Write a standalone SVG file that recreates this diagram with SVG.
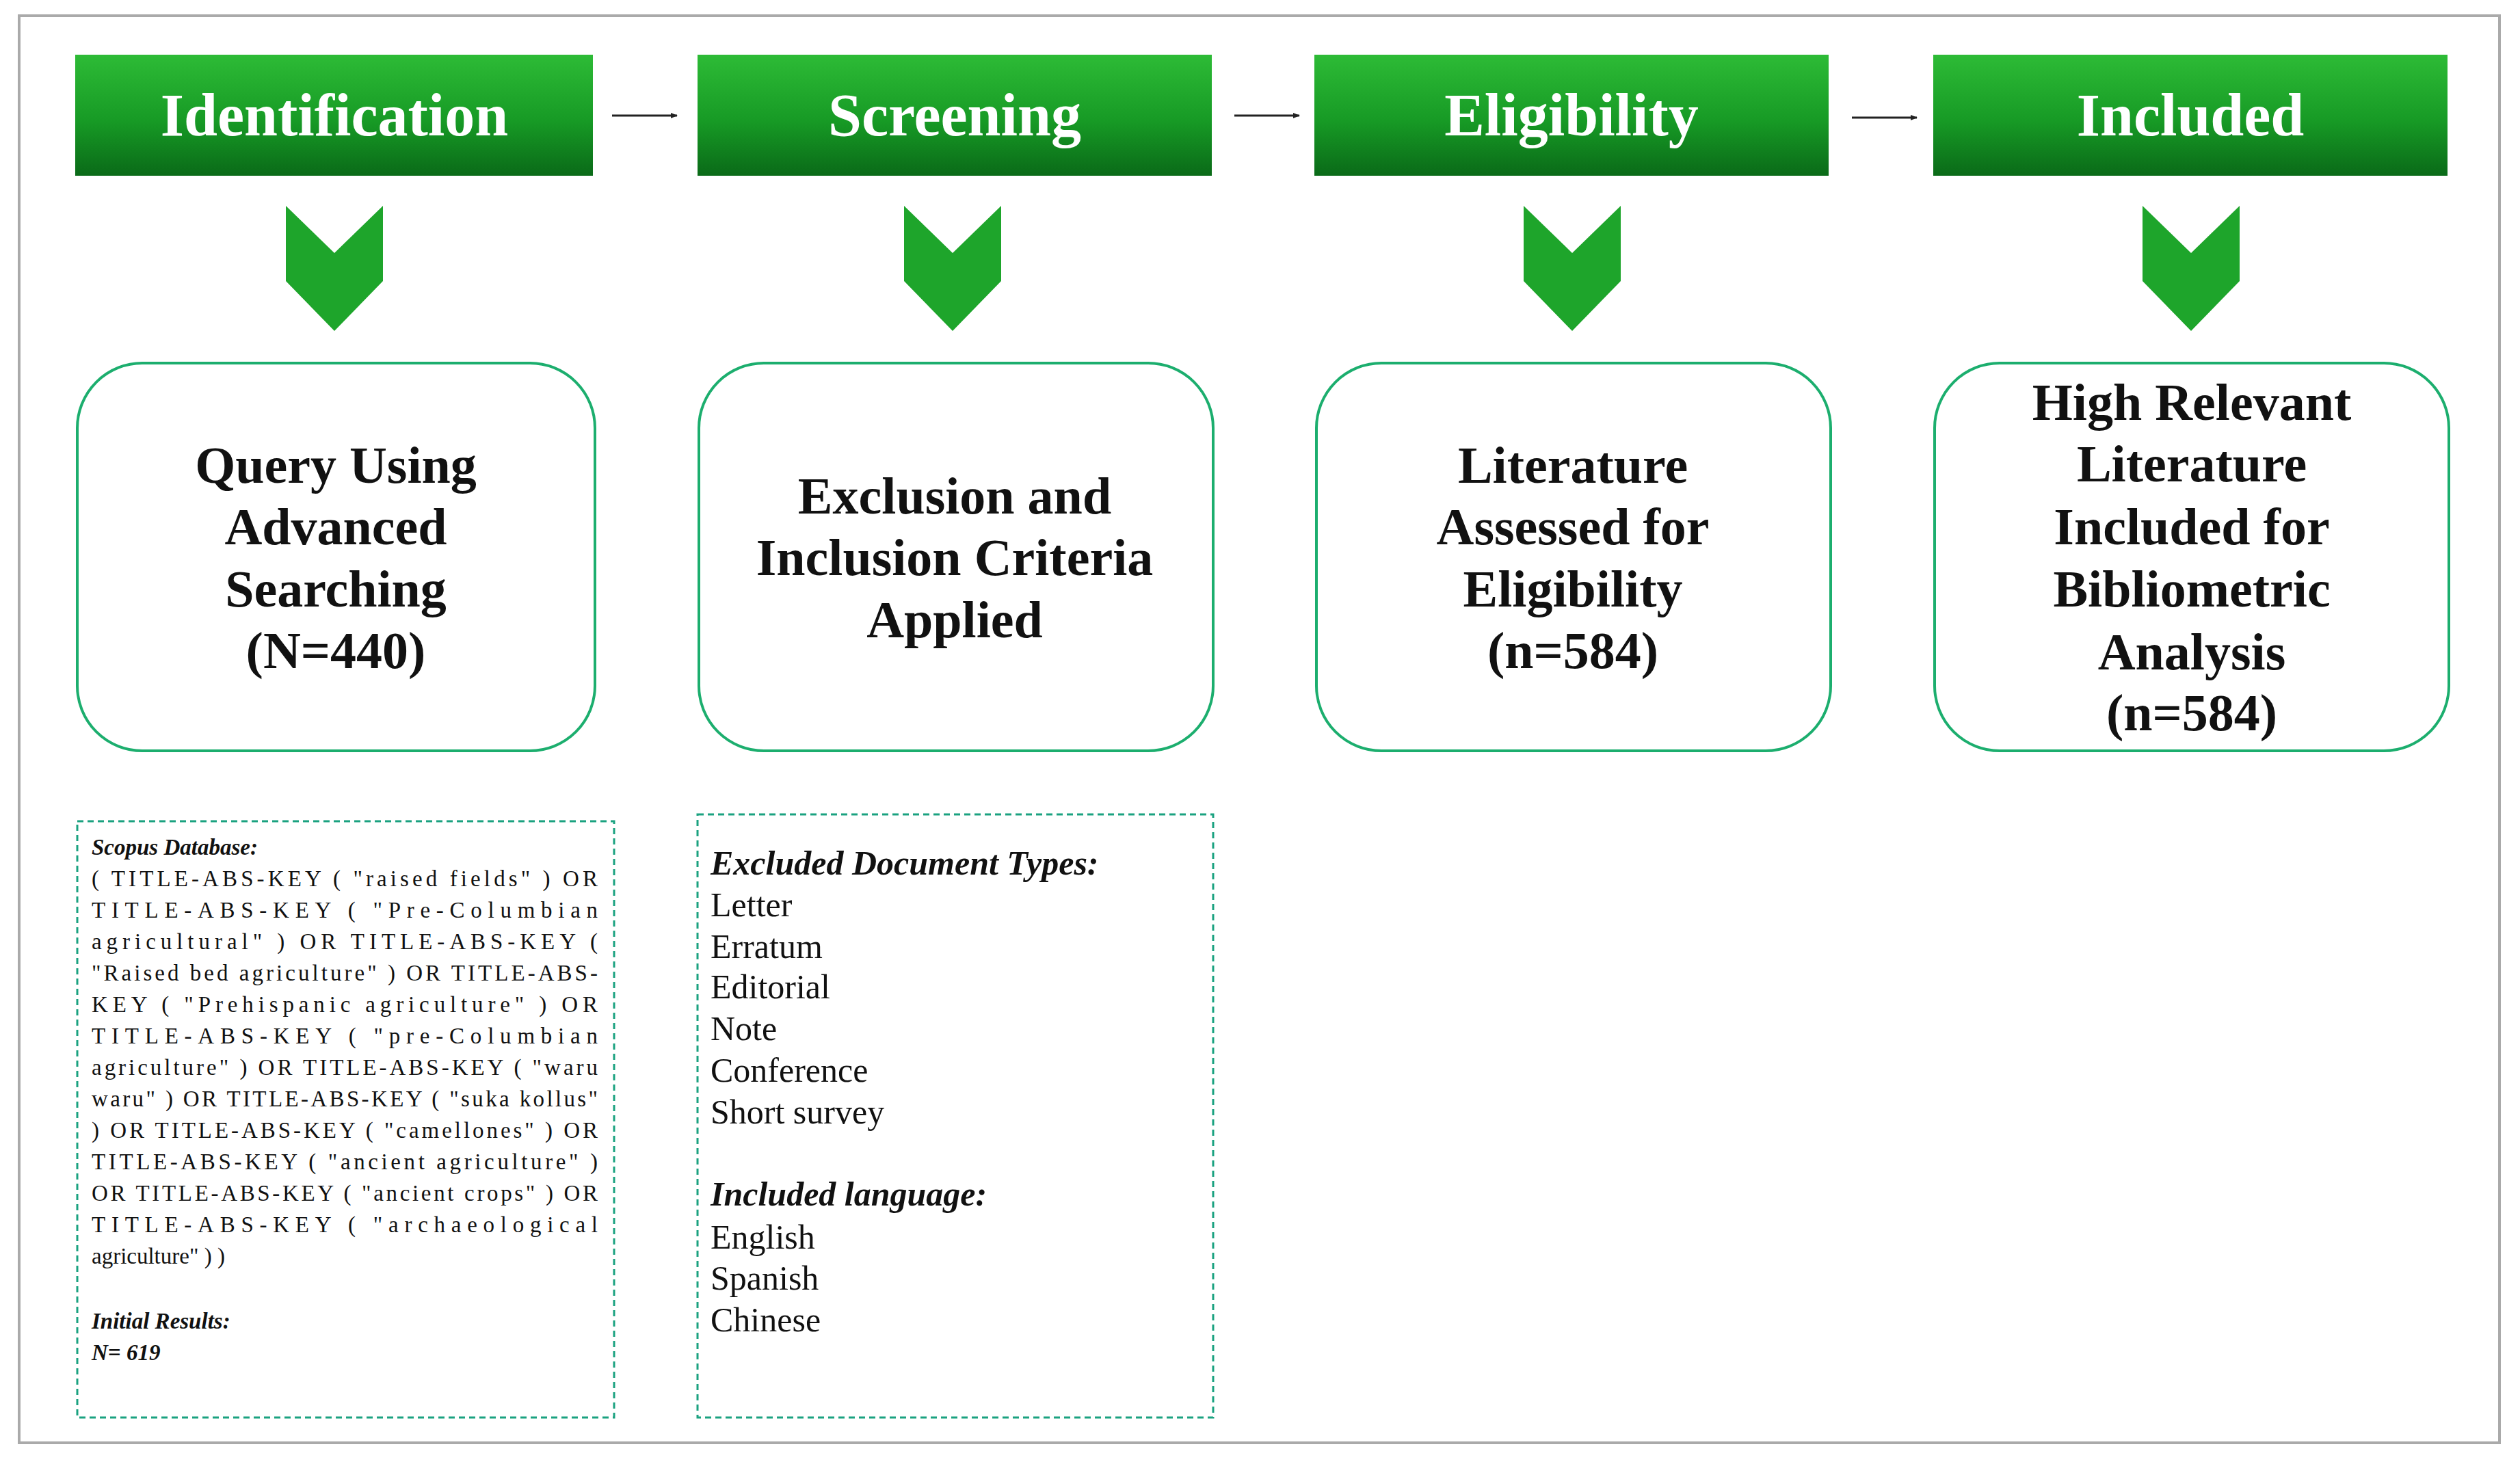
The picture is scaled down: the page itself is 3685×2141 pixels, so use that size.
<svg xmlns="http://www.w3.org/2000/svg" width="3685" height="2141" viewBox="0 0 3685 2141">
<defs>
<linearGradient id="hg" x1="0" y1="0" x2="0" y2="1">
<stop offset="0" stop-color="#2dbb36"/><stop offset="0.55" stop-color="#179a25"/><stop offset="1" stop-color="#0a6a18"/>
</linearGradient>
<marker id="ah" markerWidth="10" markerHeight="8" refX="9" refY="4" orient="auto" markerUnits="userSpaceOnUse"><path d="M0,0 L10,4 L0,8 z" fill="#222"/></marker>
</defs>
<style>
.hdr{fill:url(#hg)}
.ht{font-family:"Liberation Serif",serif;font-weight:bold;font-size:88px;fill:#fff;text-anchor:middle}
.chev{fill:#1ea52b}
.nb{fill:#fff;stroke:#1cae6e;stroke-width:4}
.nt{font-family:"Liberation Serif",serif;font-weight:bold;font-size:76px;fill:#111;text-anchor:middle}
.db{fill:#fff;stroke:#1aa280;stroke-width:3;stroke-dasharray:9 6}
.st{font-family:"Liberation Serif",serif;font-size:33px;fill:#111}
.mt{font-family:"Liberation Serif",serif;font-size:50px;fill:#111}
.it{font-style:italic;font-weight:bold}
.con{stroke:#222;stroke-width:3;fill:none}
</style>
<rect x="0" y="0" width="3685" height="2141" fill="#fff"/>
<rect x="28" y="23" width="3627" height="2087" fill="none" stroke="#aaa" stroke-width="4"/>
<g id="connectors">
<line class="con" x1="895" y1="169" x2="990" y2="169" marker-end="url(#ah)"/>
<line class="con" x1="1805" y1="169" x2="1900" y2="169" marker-end="url(#ah)"/>
<line class="con" x1="2708" y1="172" x2="2803" y2="172" marker-end="url(#ah)"/>
<path class="chev" d="M418,301 L489,370 L560,301 L560,411 L489,484 L418,411 Z"/>
<path class="chev" d="M1322,301 L1393,370 L1464,301 L1464,411 L1393,484 L1322,411 Z"/>
<path class="chev" d="M2228,301 L2299,370 L2370,301 L2370,411 L2299,484 L2228,411 Z"/>
<path class="chev" d="M3133,301 L3204,370 L3275,301 L3275,411 L3204,484 L3133,411 Z"/>
</g>
<g id="h1"><rect class="hdr" x="110" y="80" width="757" height="177"/><text class="ht" x="489" y="198">Identification</text></g>
<g id="h2"><rect class="hdr" x="1020" y="80" width="752" height="177"/><text class="ht" x="1396" y="198">Screening</text></g>
<g id="h3"><rect class="hdr" x="1922" y="80" width="752" height="177"/><text class="ht" x="2298" y="198">Eligibility</text></g>
<g id="h4"><rect class="hdr" x="2827" y="80" width="752" height="177"/><text class="ht" x="3203" y="198">Included</text></g>
<g id="n1"><rect class="nb" x="113" y="531" width="757" height="567" rx="95"/>
<text class="nt" x="491"><tspan x="491" y="706">Query Using</tspan><tspan x="491" y="796">Advanced</tspan><tspan x="491" y="887">Searching</tspan><tspan x="491" y="977">(N=440)</tspan></text></g>
<g id="n2"><rect class="nb" x="1022" y="531" width="752" height="567" rx="95"/>
<text class="nt"><tspan x="1396" y="751">Exclusion and</tspan><tspan x="1396" y="841">Inclusion Criteria</tspan><tspan x="1396" y="932">Applied</tspan></text></g>
<g id="n3"><rect class="nb" x="1925" y="531" width="752" height="567" rx="95"/>
<text class="nt"><tspan x="2300" y="706">Literature</tspan><tspan x="2300" y="796">Assessed for</tspan><tspan x="2300" y="887">Eligibility</tspan><tspan x="2300" y="977">(n=584)</tspan></text></g>
<g id="n4"><rect class="nb" x="2829" y="531" width="752" height="567" rx="95"/>
<text class="nt"><tspan x="3205" y="614">High Relevant</tspan><tspan x="3205" y="704">Literature</tspan><tspan x="3205" y="796">Included for</tspan><tspan x="3205" y="887">Bibliometric</tspan><tspan x="3205" y="979">Analysis</tspan><tspan x="3205" y="1068">(n=584)</tspan></text></g>
<g id="q1"><rect class="db" x="113" y="1201" width="785" height="872"/>
<text class="st">
<tspan x="134" y="1250" class="it">Scopus Database:</tspan>
<tspan x="134" y="1296" textLength="740" lengthAdjust="spacing">( TITLE-ABS-KEY ( "raised fields" ) OR</tspan>
<tspan x="134" y="1342" textLength="740" lengthAdjust="spacing">TITLE-ABS-KEY ( "Pre-Columbian</tspan>
<tspan x="134" y="1388" textLength="740" lengthAdjust="spacing">agricultural" ) OR TITLE-ABS-KEY (</tspan>
<tspan x="134" y="1434" textLength="740" lengthAdjust="spacing">"Raised bed agriculture" ) OR TITLE-ABS-</tspan>
<tspan x="134" y="1480" textLength="740" lengthAdjust="spacing">KEY ( "Prehispanic agriculture" ) OR</tspan>
<tspan x="134" y="1526" textLength="740" lengthAdjust="spacing">TITLE-ABS-KEY ( "pre-Columbian</tspan>
<tspan x="134" y="1572" textLength="740" lengthAdjust="spacing">agriculture" ) OR TITLE-ABS-KEY ( "waru</tspan>
<tspan x="134" y="1618" textLength="740" lengthAdjust="spacing">waru" ) OR TITLE-ABS-KEY ( "suka kollus"</tspan>
<tspan x="134" y="1664" textLength="740" lengthAdjust="spacing">) OR TITLE-ABS-KEY ( "camellones" ) OR</tspan>
<tspan x="134" y="1710" textLength="740" lengthAdjust="spacing">TITLE-ABS-KEY ( "ancient agriculture" )</tspan>
<tspan x="134" y="1756" textLength="740" lengthAdjust="spacing">OR TITLE-ABS-KEY ( "ancient crops" ) OR</tspan>
<tspan x="134" y="1802" textLength="740" lengthAdjust="spacing">TITLE-ABS-KEY ( "archaeological</tspan>
<tspan x="134" y="1848">agriculture" ) )</tspan>
<tspan x="134" y="1943" class="it">Initial Results:</tspan>
<tspan x="134" y="1989" class="it">N= 619</tspan>
</text></g>
<g id="q2"><rect class="db" x="1020" y="1191" width="754" height="882"/>
<text class="mt">
<tspan x="1039" y="1279" class="it">Excluded Document Types:</tspan>
<tspan x="1039" y="1340">Letter</tspan>
<tspan x="1039" y="1401">Erratum</tspan>
<tspan x="1039" y="1460">Editorial</tspan>
<tspan x="1039" y="1521">Note</tspan>
<tspan x="1039" y="1582">Conference</tspan>
<tspan x="1039" y="1643">Short survey</tspan>
<tspan x="1039" y="1763" class="it">Included language:</tspan>
<tspan x="1039" y="1826">English</tspan>
<tspan x="1039" y="1886">Spanish</tspan>
<tspan x="1039" y="1947">Chinese</tspan>
</text></g>
</svg>
